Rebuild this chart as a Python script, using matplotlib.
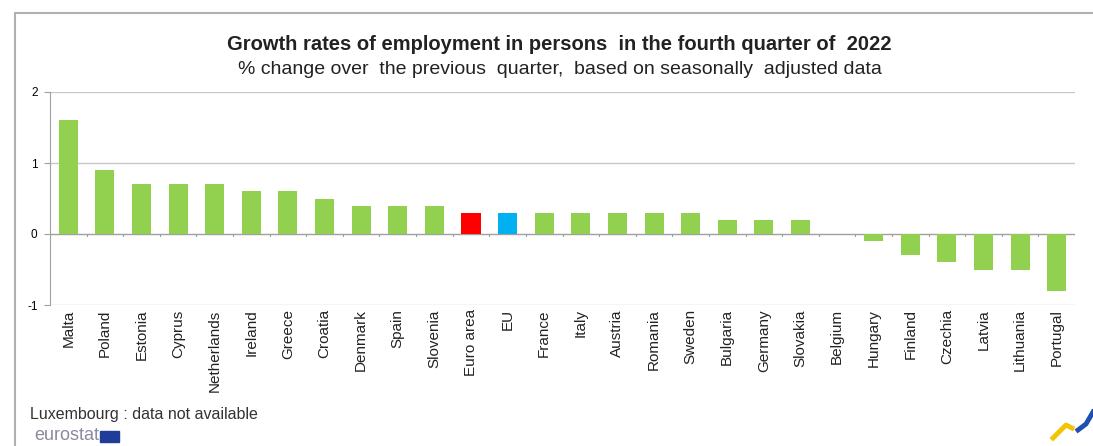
import matplotlib.pyplot as plt
import numpy as np
from matplotlib.patches import Rectangle

plt.rcParams['font.family'] = ['Liberation Sans', 'DejaVu Sans']

countries = ['Malta', 'Poland', 'Estonia', 'Cyprus', 'Netherlands', 'Ireland', 'Greece',
             'Croatia', 'Denmark', 'Spain', 'Slovenia', 'Euro area', 'EU', 'France', 'Italy',
             'Austria', 'Romania', 'Sweden', 'Bulgaria', 'Germany', 'Slovakia', 'Belgium',
             'Hungary', 'Finland', 'Czechia', 'Latvia', 'Lithuania', 'Portugal']
growth = [1.6, 0.9, 0.7, 0.7, 0.7, 0.6, 0.6, 0.5, 0.4, 0.4, 0.4, 0.3, 0.3, 0.3, 0.3,
          0.3, 0.3, 0.3, 0.2, 0.2, 0.2, 0.0, -0.1, -0.3, -0.4, -0.5, -0.5, -0.8]

green = '#92d050'
colors = [green] * len(countries)
colors[countries.index('Euro area')] = '#ff0000'
colors[countries.index('EU')] = '#00b0f0'

W, H = 1093, 446
fig = plt.figure(figsize=(W / 100, H / 100), dpi=100)

# outer frame of the graphic
fig.patches.append(Rectangle((15 / W, -0.1), 1.2, 1 - 13 / H + 0.1,
                             transform=fig.transFigure, fill=False,
                             edgecolor='#b0b0b0', linewidth=1.5))

ax = fig.add_axes([50 / W, 1 - 305 / H, 1025 / W, 213 / H])
x = np.arange(len(countries))
ax.bar(x, growth, width=0.52, color=colors, zorder=3)

ax.set_xlim(-0.5, len(countries) - 0.5)
ax.set_ylim(-1, 2)
ax.set_yticks([-1, 0, 1, 2])
ax.set_yticklabels(['-1', '0', '1', '2'], fontsize=8.5)
for yv in [1, 2]:
    ax.axhline(yv, color='#c8c8c8', linewidth=1, zorder=1)
ax.axhline(0, color='#a0a0a0', linewidth=1, zorder=2)
ax.axhline(-1, color='#d0d0d0', linewidth=1, zorder=1)

for s in ['top', 'right', 'bottom']:
    ax.spines[s].set_visible(False)
ax.spines['left'].set_color('#a0a0a0')
ax.tick_params(axis='y', length=4, color='#a0a0a0', pad=5)

# category tick marks on zero line
ax.set_xticks([])
for b in np.arange(-0.5, len(countries), 1.0):
    ax.plot([b, b], [0, -0.03], color='#a0a0a0', linewidth=0.8, zorder=2)
for i, c in enumerate(countries):
    ax.text(i, -1.06, c, rotation=90, ha='center', va='top', fontsize=11, color='#222222')

fig.text(0.512, 1 - 45 / H, 'Growth rates of employment in persons  in the fourth quarter of  2022',
         ha='center', va='center', fontsize=14.5, fontweight='bold', color='#222222')
fig.text(0.512, 1 - 69 / H, '% change over  the previous  quarter,  based on seasonally  adjusted data',
         ha='center', va='center', fontsize=14, color='#222222')

fig.text(30 / W, 1 - 415 / H, 'Luxembourg : data not available', ha='left', va='center',
         fontsize=11.5, color='#333333')
eu = fig.text(34 / W, 1 - 436 / H, 'eurostat', ha='left', va='center', fontsize=13, color='#8a8aa0')

fig.canvas.draw()
bb = eu.get_window_extent()
fig.patches.append(Rectangle((bb.x1 / W + 1 / W, 1 - 442 / H), 19 / W, 11 / H,
                             transform=fig.transFigure, color='#1f3d99'))

# eurostat swoosh bottom right
fig.add_artist(plt.Line2D([1053 / W, 1066 / W, 1072 / W], [1 - 438 / H, 1 - 425 / H, 1 - 428 / H],
                          transform=fig.transFigure, color='#f2c500', linewidth=3.5))
fig.add_artist(plt.Line2D([1078 / W, 1086 / W, 1093 / W], [1 - 430 / H, 1 - 424 / H, 1 - 412 / H],
                          transform=fig.transFigure, color='#1f4fb0', linewidth=3.5))

fig.savefig('out.png', dpi=100)
